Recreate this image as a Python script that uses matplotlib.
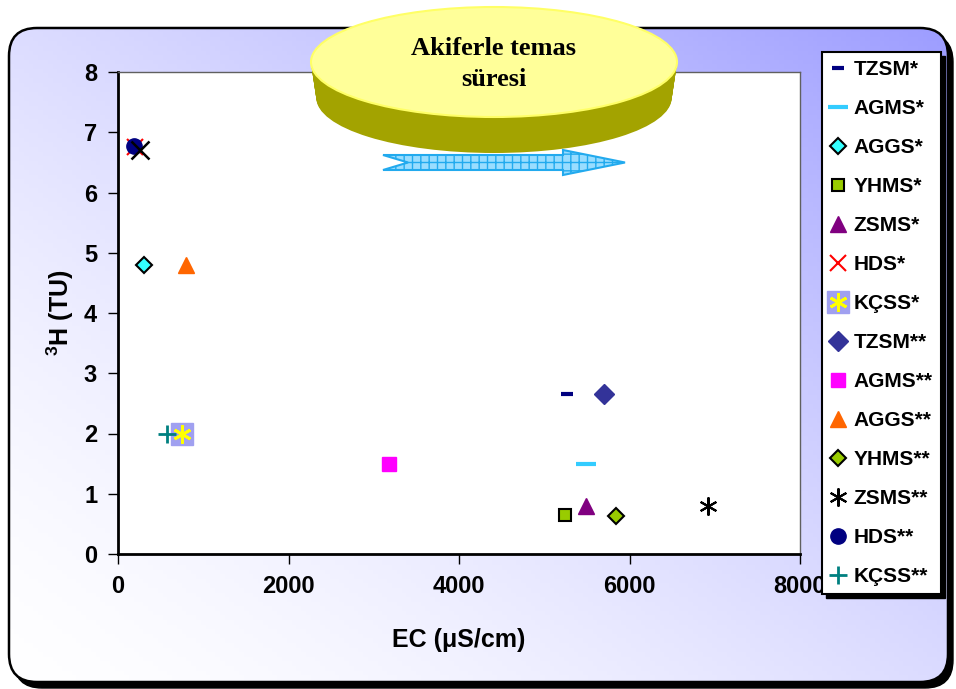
import numpy as np
import matplotlib
matplotlib.use('Agg')
import matplotlib.pyplot as plt
from matplotlib.patches import FancyBboxPatch, Ellipse, Polygon, Rectangle

plt.rcParams['font.family'] = ['Liberation Sans', 'DejaVu Sans']
plt.rcParams['font.weight'] = 'bold'
plt.rcParams['mathtext.fontset'] = 'custom'
plt.rcParams['mathtext.bf'] = 'Liberation Sans:bold'
plt.rcParams['mathtext.rm'] = 'Liberation Sans:bold'
plt.rcParams['mathtext.default'] = 'bf'

# ------------ Data ---------------
labels = ['TZSM*', 'AGMS*', 'AGGS*', 'YHMS*', 'ZSMS*', 'HDS*', 'KÇSS*',
          'TZSM**', 'AGMS**', 'AGGS**', 'YHMS**', 'ZSMS**', 'HDS**', 'KÇSS**']
ec = [5270, 5490, 300, 5240, 5490, 200, 750,
      5700, 3180, 800, 5840, 6920, 190, 580]
tritium = [2.65, 1.5, 4.8, 0.65, 0.8, 6.75, 2.0,
           2.65, 1.5, 4.8, 0.63, 0.8, 6.78, 2.0]
# unlabeled black cross sitting on the HDS points
extra_ec = [260]
extra_h = [6.7]

xticks = [0, 2000, 4000, 6000, 8000]
yticks = [0, 1, 2, 3, 4, 5, 6, 7, 8]

# marker styles: (marker, size, face, edge, edge width)
styles = [
    ('_', 9, '#000080', '#000080', 3),
    ('_', 14, '#33ccff', '#33ccff', 3),
    ('D', 8, '#33ffff', 'black', 1.5),
    ('s', 9, '#99cc00', 'black', 1.5),
    ('^', 12, '#800080', '#800080', 1),
    ('x', 11, 'red', 'red', 1.5),
    ((6, 2, 0), 13, 'yellow', 'yellow', 2),
    ('D', 10, '#333399', '#333399', 1),
    ('s', 10, '#ff00ff', '#ff00ff', 1),
    ('^', 12, '#ff6600', '#ff6600', 1),
    ('D', 8, '#99cc00', 'black', 1.5),
    ((6, 2, 0), 13, 'black', 'black', 1.5),
    ('o', 11, '#000080', '#000080', 1),
    ('+', 13, '#008080', '#008080', 2),
]

W, H = 956, 689
fig = plt.figure(figsize=(W / 100, H / 100), dpi=100)

# ------------ Background frame ---------------
bg = fig.add_axes([0, 0, 1, 1], zorder=-1)
bg.set_xlim(0, W)
bg.set_ylim(H, 0)
bg.axis('off')

shadow = FancyBboxPatch((14, 34), 939, 654, boxstyle='round,pad=0,rounding_size=28',
                        fc='black', ec='black')
bg.add_patch(shadow)
frame = FancyBboxPatch((9, 28), 939, 654, boxstyle='round,pad=0,rounding_size=28',
                       fc='none', ec='black', lw=1.8, zorder=3)
bg.add_patch(frame)

gx, gy = np.meshgrid(np.linspace(0, 1, 200), np.linspace(0, 1, 150))
t = (0.58 * gx * W + 0.81 * (1 - gy) * H) / (0.58 * W + 0.81 * H)
t = np.clip(t, 0, 1) ** 1.5
c_lo = np.array([1.0, 1.0, 1.0])
c_hi = np.array([0x99, 0x99, 0xff]) / 255
grad = c_lo[None, None, :] * (1 - t[..., None]) + c_hi[None, None, :] * t[..., None]
im = bg.imshow(grad, extent=[0, W, H, 0], aspect='auto', zorder=2)
clip = FancyBboxPatch((9, 28), 939, 654, boxstyle='round,pad=0,rounding_size=28',
                      fc='none', ec='none', transform=bg.transData)
im.set_clip_path(clip)

# ------------ Main plot ---------------
ax = fig.add_axes([118 / W, (H - 554) / H, 682 / W, 482 / H])
ax.set_facecolor('white')

handles = []
for i, lab in enumerate(labels):
    m, ms, fc, mec, mew = styles[i]
    if lab == 'KÇSS*':
        bgm, = ax.plot([ec[i]], [tritium[i]], ls='none', marker='s', ms=16,
                       mfc='#a0a0f0', mec='#a0a0f0', zorder=3)
        fg, = ax.plot([ec[i]], [tritium[i]], ls='none', marker=m, ms=ms,
                      mfc=fc, mec=mec, mew=mew, zorder=4)
        handles.append((bgm, fg))
    else:
        h, = ax.plot([ec[i]], [tritium[i]], ls='none', marker=m, ms=ms,
                     mfc=fc, mec=mec, mew=mew, zorder=3)
        handles.append(h)
ax.plot(extra_ec, extra_h, ls='none', marker='x', ms=13, mec='black', mew=1.8, zorder=4)

ax.set_xlim(0, 8000)
ax.set_ylim(0, 8)
ax.set_xticks(xticks)
ax.set_yticks(yticks)
ax.tick_params(axis='both', direction='out', length=7, width=1, labelsize=17, pad=8)
for s in ['left', 'bottom']:
    ax.spines[s].set_linewidth(2)
    ax.spines[s].set_color('black')
for s in ['top', 'right']:
    ax.spines[s].set_linewidth(1)
    ax.spines[s].set_color('#606060')
for lbl in ax.get_xticklabels() + ax.get_yticklabels():
    lbl.set_fontweight('bold')

ax.set_xlabel('EC (μS/cm)', fontsize=18, fontweight='bold', labelpad=22)
ax.set_ylabel('$^{3}$H (TU)', fontsize=18, fontweight='bold', labelpad=6)

# ------------ Overlay: ellipse, arrow, legend ---------------
ov = fig.add_axes([0, 0, 1, 1])
ov.set_xlim(0, W)
ov.set_ylim(H, 0)
ov.axis('off')
ov.patch.set_alpha(0)

for off in range(0, 37):
    ov.add_patch(Ellipse((494, 62 + off), 366 - off * 0.3, 110,
                         fc='#a3a300', ec='none'))
ov.add_patch(Ellipse((494, 62), 366, 110, fc='#ffff99', ec='#ffff66', lw=1.5))
ov.text(494, 64, 'Akiferle temas\nsüresi', ha='center', va='center',
        fontsize=19, fontweight='bold', family=['Liberation Serif'], linespacing=1.4)

arrow = Polygon([(383, 155), (563, 155), (563, 150), (625, 162.5), (563, 175),
                 (563, 170), (383, 170), (408, 162.5)], closed=True,
                fc='#99ddff', ec='#22aaee', lw=1.5, hatch='++')
ov.add_patch(arrow)

leg = ov.legend(handles, labels, loc='upper left', bbox_to_anchor=(822, 52),
                bbox_transform=ov.transData, borderaxespad=0, fancybox=False,
                framealpha=1, edgecolor='black',
                prop={'weight': 'bold', 'size': 15},
                labelspacing=0.96, handlelength=0.8, handletextpad=0.35,
                borderpad=0.38, numpoints=1)
leg.get_frame().set_linewidth(1.5)

# shadow under the legend box, sized from the drawn legend
fig.canvas.draw()
bb = leg.get_window_extent().transformed(ov.transData.inverted())
x0, x1 = sorted([bb.x0, bb.x1])
y0, y1 = sorted([bb.y0, bb.y1])
ov.add_patch(Rectangle((x0 + 4, y0 + 4), x1 - x0, y1 - y0, fc='black', ec='black', zorder=1))

fig.savefig('out.png', dpi=100)
